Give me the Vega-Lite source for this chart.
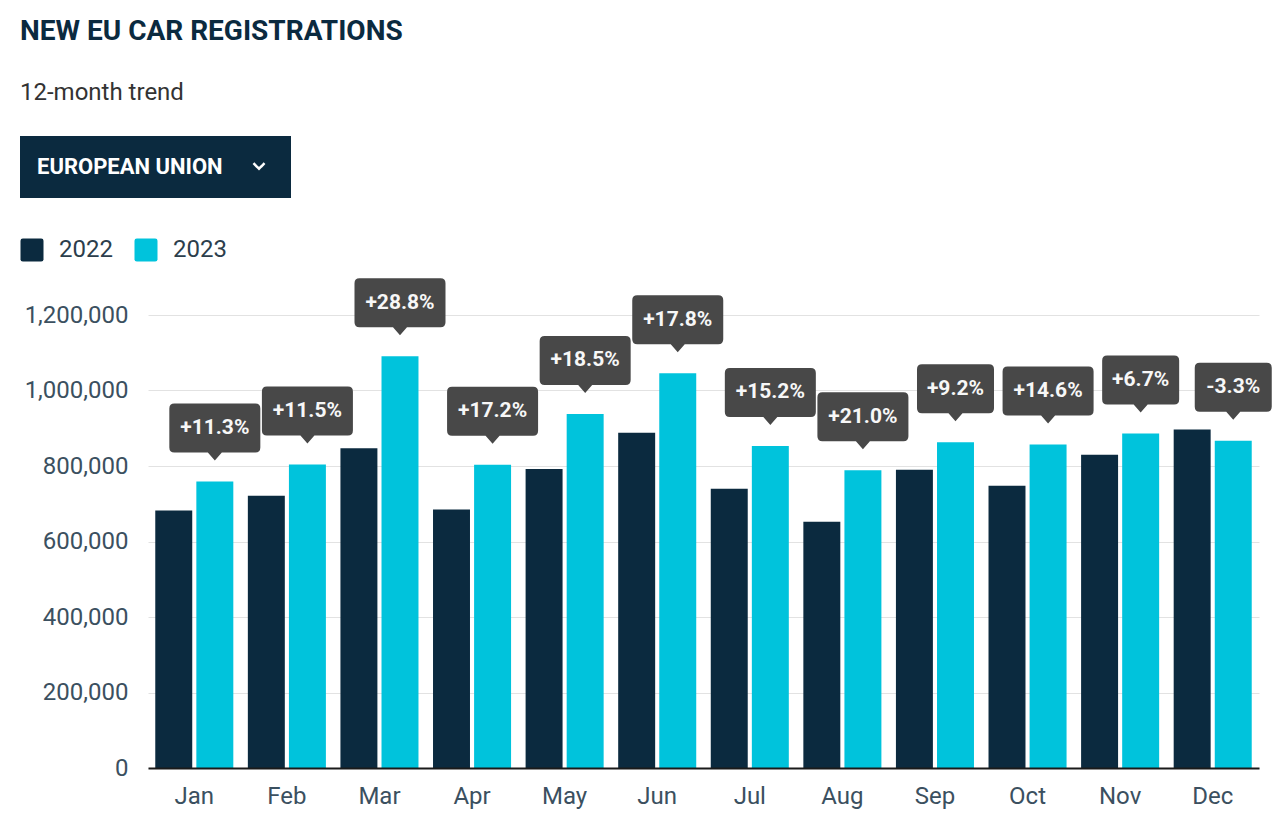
{
  "$schema": "https://vega.github.io/schema/vega-lite/v6.json",
  "background": "white",
  "padding": {"left": 20, "top": 18, "right": 20, "bottom": 10},
  "width": 1111,
  "height": 453,
  "title": {
    "text": "NEW EU CAR REGISTRATIONS",
    "subtitle": "12-month trend",
    "anchor": "start",
    "frame": "bounds",
    "font": "Roboto",
    "fontSize": 28,
    "fontWeight": "bold",
    "color": "#0b2a3f",
    "subtitleFont": "Roboto",
    "subtitleFontSize": 24,
    "subtitleColor": "#333333",
    "subtitlePadding": 35,
    "offset": 31
  },
  "config": {
    "view": {"stroke": null},
    "font": "Roboto"
  },
  "data": {
    "values": [
      {"month": "Jan", "year": "2022", "value": 682000, "change": ""},
      {"month": "Jan", "year": "2023", "value": 759000, "change": "+11.3%"},
      {"month": "Feb", "year": "2022", "value": 721000, "change": ""},
      {"month": "Feb", "year": "2023", "value": 804000, "change": "+11.5%"},
      {"month": "Mar", "year": "2022", "value": 847000, "change": ""},
      {"month": "Mar", "year": "2023", "value": 1091000, "change": "+28.8%"},
      {"month": "Apr", "year": "2022", "value": 685000, "change": ""},
      {"month": "Apr", "year": "2023", "value": 803000, "change": "+17.2%"},
      {"month": "May", "year": "2022", "value": 792000, "change": ""},
      {"month": "May", "year": "2023", "value": 938000, "change": "+18.5%"},
      {"month": "Jun", "year": "2022", "value": 888000, "change": ""},
      {"month": "Jun", "year": "2023", "value": 1046000, "change": "+17.8%"},
      {"month": "Jul", "year": "2022", "value": 740000, "change": ""},
      {"month": "Jul", "year": "2023", "value": 853000, "change": "+15.2%"},
      {"month": "Aug", "year": "2022", "value": 652000, "change": ""},
      {"month": "Aug", "year": "2023", "value": 789000, "change": "+21.0%"},
      {"month": "Sep", "year": "2022", "value": 790000, "change": ""},
      {"month": "Sep", "year": "2023", "value": 863000, "change": "+9.2%"},
      {"month": "Oct", "year": "2022", "value": 748000, "change": ""},
      {"month": "Oct", "year": "2023", "value": 857000, "change": "+14.6%"},
      {"month": "Nov", "year": "2022", "value": 830000, "change": ""},
      {"month": "Nov", "year": "2023", "value": 886000, "change": "+6.7%"},
      {"month": "Dec", "year": "2022", "value": 897000, "change": ""},
      {"month": "Dec", "year": "2023", "value": 867000, "change": "-3.3%"}
    ]
  },
  "encoding": {
    "x": {
      "field": "month", "type": "nominal",
      "scale": {"domain": ["Jan","Feb","Mar","Apr","May","Jun","Jul","Aug","Sep","Oct","Nov","Dec"], "paddingInner": 0.157, "paddingOuter": 0.0785},
      "axis": {"title": null, "labelAngle": 0, "labelFontSize": 24, "labelFont": "Roboto", "labelColor": "#3b5060", "ticks": false, "domainColor": "#1a1a1a", "domainWidth": 2, "labelPadding": 16, "grid": false, "zindex": 1}
    },
    "xOffset": {"field": "year", "type": "nominal", "scale": {"domain": ["2022", "2023"], "paddingInner": 0.1, "paddingOuter": 0}},
    "y": {
      "field": "value", "type": "quantitative",
      "scale": {"domain": [0, 1200000], "nice": false},
      "axis": {"title": null, "values": [0, 200000, 400000, 600000, 800000, 1000000, 1200000], "format": ",d", "labelFontSize": 24, "labelFont": "Roboto", "labelColor": "#3b5060", "labelPadding": 20, "ticks": false, "domain": false, "gridColor": "#e2e2e2", "gridWidth": 1}
    }
  },
  "layer": [
    {
      "mark": {"type": "bar"},
      "encoding": {
        "color": {
          "field": "year", "type": "nominal",
          "scale": {"domain": ["2022", "2023"], "range": ["#0b2a3f", "#00c3dc"]},
          "legend": {"title": null, "orient": "none", "legendX": -128, "legendY": -77, "direction": "horizontal", "symbolType": "M-0.8,-1 L0.8,-1 Q1,-1 1,-0.8 L1,0.8 Q1,1 0.8,1 L-0.8,1 Q-1,1 -1,0.8 L-1,-0.8 Q-1,-1 -0.8,-1 Z", "symbolSize": 529, "symbolStrokeWidth": 0, "labelFontSize": 24, "labelFont": "Roboto", "labelColor": "#2c3e4c", "labelOffset": 15, "columnPadding": 21}
        },
        "strokeDash": {
          "datum": "EU", "type": "nominal",
          "legend": {"title": "EUROPEAN UNION", "orient": "none", "legendX": -128, "legendY": -179, "titleOrient": "left", "titleAngle": 0, "titleAnchor": "middle", "titleBaseline": "middle", "titleFont": "Roboto", "titleFontSize": 22, "titleFontWeight": "bold", "titleColor": "#ffffff", "titlePadding": 23, "titleLimit": 400, "fillColor": "#0b2a3f", "strokeColor": null, "padding": 17, "symbolType": "M-0.8,-0.8 M0.8,0.8 M-0.48,-0.24 L0,0.24 L0.48,-0.24", "symbolSize": 529, "symbolStrokeColor": "#ffffff", "symbolFillColor": "transparent", "symbolStrokeWidth": 2.5, "symbolDash": [1, 0], "labelExpr": "''", "labelOffset": 2, "labelFontSize": 10}
        }
      }
    },
    {
      "transform": [{"filter": "datum.year == '2023'"}],
      "mark": {"type": "point", "size": 4, "filled": true, "fill": "#484848", "opacity": 1, "strokeWidth": 0},
      "encoding": {
        "shape": {
          "condition": {"test": "length(datum.change) > 5", "value": "M-40.5,-78 L40.5,-78 Q45.5,-78 45.5,-73 L45.5,-34 Q45.5,-29 40.5,-29 L7,-29 L0,-21 L-7,-29 L-40.5,-29 Q-45.5,-29 -45.5,-34 L-45.5,-73 Q-45.5,-78 -40.5,-78 Z"},
          "value": "M-33.5,-78 L33.5,-78 Q38.5,-78 38.5,-73 L38.5,-34 Q38.5,-29 33.5,-29 L7,-29 L0,-21 L-7,-29 L-33.5,-29 Q-38.5,-29 -38.5,-34 L-38.5,-73 Q-38.5,-78 -33.5,-78 Z"
        }
      }
    },
    {
      "transform": [{"filter": "datum.year == '2023'"}],
      "mark": {"type": "text", "dy": -53.5, "baseline": "middle", "align": "center", "fontSize": 21, "fontWeight": "bold", "color": "#f7f7f7", "font": "Roboto"},
      "encoding": {"text": {"field": "change"}}
    }
  ]
}
